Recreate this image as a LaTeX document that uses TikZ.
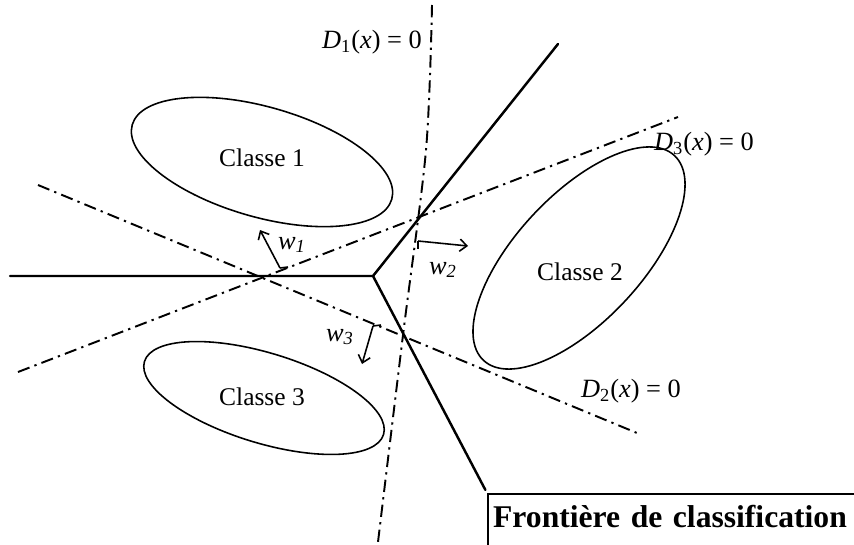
\documentclass[tikz,border=0pt]{standalone}
\usepackage{fontspec}
\setmainfont{Liberation Serif}
\usetikzlibrary{arrows.meta, calc}
\tikzset{
  bound/.style={line width=1.4pt, line cap=round},
  dline/.style={line width=1.1pt, dash pattern=on 7pt off 3pt on 1.3pt off 3pt},
  classell/.style={line width=0.9pt},
  classlab/.style={font=\fontsize{14.5}{17}\selectfont, inner sep=0pt},
  eqlab/.style={font=\fontsize{15}{18}\selectfont, inner sep=0pt},
  wlab/.style={font=\fontsize{15}{18}\selectfont\itshape, inner sep=0pt},
  warrow/.style={-{Straight Barb[length=4pt, width=7pt]}, line width=0.9pt},
  wtick/.style={line width=0.9pt},
  framebox/.style={draw, line width=1pt, font=\fontsize{18}{21}\selectfont\bfseries,
    inner xsep=3pt, inner ysep=1pt, text height=18.4pt, text depth=12pt,
    text width=215pt, align=left},
}
\begin{document}
\begin{tikzpicture}[x=0.02cm, y=-0.02cm]
  \clip (0,0) rectangle (854,544);
  % points of the picture
  \coordinate (c) at (373,276);
  \coordinate (bl) at (10,276);
  \coordinate (bu) at (558,44);
  \coordinate (c1) at (262,162);
  \coordinate (c2) at (579,258);
  \coordinate (c3) at (264,398);

  % classes
  \draw[classell, rotate around={-16:(c1)}] (c1) ellipse [x radius=135, y radius=55];
  \draw[classell, rotate around={47:(c2)}] (c2) ellipse [x radius=140, y radius=63];
  \draw[classell, rotate around={-17:(c3)}] (c3) ellipse [x radius=125, y radius=45];
  \node[classlab] (k1) at (262,158) {Classe 1};
  \node[classlab] (k2) at (580,272) {Classe 2};
  \node[classlab] (k3) at (262,397) {Classe 3};

  % lines D_i(x) = 0
  \coordinate (d1a) at (432,5);
  \coordinate (d1b) at (378,542);
  \coordinate (d2a) at (38,185);
  \coordinate (d2b) at (637,433);
  \coordinate (d3a) at (18,372);
  \coordinate (d3b) at (678,117);
  \draw[dline] plot[smooth] coordinates {(d1a) (426,150) (403,335) (d1b)};
  \draw[dline] (d2a) -- (d2b);
  \draw[dline] (d3a) -- (d3b);
  \node[eqlab] (e1) at (372,42) {\textit{D}\textsubscript{1}(\textit{x}) = 0};
  \node[eqlab] (e2) at (631,391) {\textit{D}\textsubscript{2}(\textit{x}) = 0};
  \node[eqlab] (e3) at (704,144) {\textit{D}\textsubscript{3}(\textit{x}) = 0};

  % frontier
  \node[framebox, anchor=north west] (front) at (487,493) {Fronti\`ere de classification};
  \draw[bound] (bl) -- (c) -- (bu);
  \draw[bound, shorten >=2pt] (c) -- (front.north west);

  % normal vectors
  \coordinate (w1b) at (280,268);
  \coordinate (w1t) at (260,230);
  \coordinate (w2b) at (418,241);
  \coordinate (w2t) at (468,246);
  \coordinate (w3b) at (373,326);
  \coordinate (w3t) at (362,364);
  \draw[wtick] (w1b) -- ++(8,-1);
  \draw[warrow] (w1b) -- (w1t);
  \draw[wtick] (w2b) -- ++(0,8);
  \draw[warrow] (w2b) -- (w2t);
  \draw[wtick] (w3b) -- ++(8,-1);
  \draw[warrow] (w3b) -- (w3t);
  \node[wlab] (l1) at (292,245) {w\textsubscript{1}};
  \node[wlab] (l2) at (443,270) {w\textsubscript{2}};
  \node[wlab] (l3) at (340,337) {w\textsubscript{3}};
\end{tikzpicture}
\end{document}
